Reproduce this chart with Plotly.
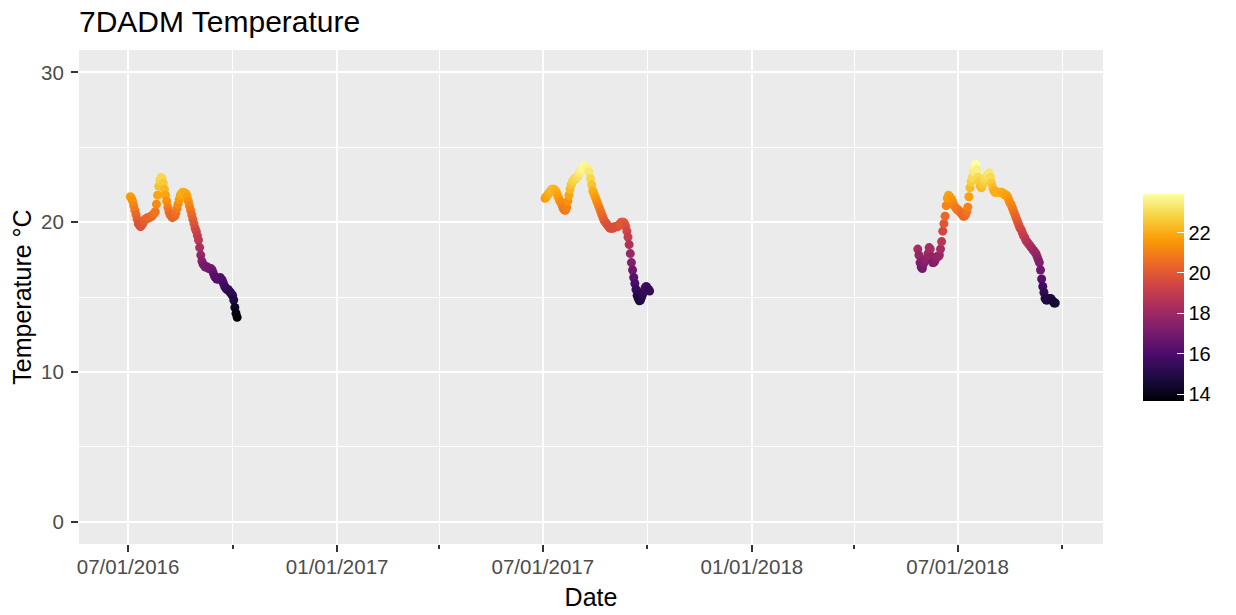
import pandas as pd
import plotly.graph_objects as go

# ---- data (7-day average daily maximum temperature, °C) ----
start_2016 = "2016-07-03"
temps_2016 = [21.7, 21.6, 21.4, 21.1, 20.8, 20.5, 20.2, 19.9, 19.8, 19.7,
              19.8, 19.9, 20.1, 20.2, 20.2, 20.3, 20.3, 20.3, 20.4, 20.4,
              20.5, 20.6, 20.7, 21.2, 21.8, 22.4, 22.8, 23.0, 22.9, 22.6,
              22.2, 21.8, 21.4, 21.0, 20.7, 20.5, 20.4, 20.3, 20.4, 20.4,
              20.6, 20.9, 21.2, 21.5, 21.8, 21.9, 22.0, 22.0, 21.9, 21.9,
              21.7, 21.4, 21.1, 20.8, 20.5, 20.2, 19.9, 19.6, 19.4, 19.1,
              18.8, 18.3, 17.8, 17.4, 17.2, 17.1, 17.0, 17.0, 17.0, 16.9,
              16.9, 16.9, 16.8, 16.6, 16.4, 16.3, 16.2, 16.2, 16.2, 16.3,
              16.2, 16.1, 15.9, 15.7, 15.6, 15.5, 15.5, 15.4, 15.3, 15.2,
              15.1, 14.8, 14.3, 13.9, 13.65]

start_2017 = "2017-07-03"
temps_2017 = [21.6, 21.7, 21.8, 21.9, 22.0, 22.1, 22.2, 22.2, 22.2, 22.1,
              22.0, 21.8, 21.6, 21.4, 21.3, 21.1, 20.9, 20.8, 20.8, 21.0,
              21.4, 21.8, 22.2, 22.5, 22.7, 22.8, 22.9, 22.9, 23.0, 23.1,
              23.3, 23.4, 23.5, 23.6, 23.7, 23.75, 23.7, 23.6, 23.5, 23.3,
              22.9, 22.5, 22.1, 21.9, 21.7, 21.5, 21.3, 21.1, 20.9, 20.7,
              20.5, 20.3, 20.1, 20.0, 19.9, 19.8, 19.7, 19.6, 19.6, 19.6,
              19.6, 19.7, 19.7, 19.7, 19.7, 19.8, 19.9, 20.0, 20.0, 20.0,
              19.9, 19.7, 19.4, 19.0, 18.5, 17.9, 17.3, 16.8, 16.3, 15.9,
              15.5, 15.1, 14.9, 14.75, 14.8, 15.0, 15.2, 15.4, 15.6, 15.7,
              15.6, 15.5, 15.4]

start_2018 = "2018-05-27"
temps_2018 = [18.2, 17.8, 17.3, 17.0, 16.9, 17.2, 17.4, 17.5, 17.6, 17.9,
              18.3, 18.2, 17.7, 17.3, 17.3, 17.4, 17.6, 17.7, 17.7, 17.8,
              18.2, 18.7, 19.4, 19.9, 20.4, 21.1, 21.6, 21.8, 21.7, 21.6,
              21.5, 21.3, 21.1, 21.0, 20.9, 20.8, 20.8, 20.7, 20.6, 20.5,
              20.4, 20.4, 20.5, 20.7, 21.0, 21.7, 22.3, 22.7, 23.0, 23.4,
              23.7, 23.88, 23.5, 23.0, 22.7, 22.4, 22.3, 22.5, 22.7, 22.9,
              23.0, 23.1, 23.2, 23.3, 23.0, 22.6, 22.3, 22.1, 22.0, 22.0,
              22.0, 22.0, 22.0, 22.0, 22.0, 21.9, 21.9, 21.8, 21.8, 21.7,
              21.5, 21.3, 21.2, 21.0, 20.8, 20.6, 20.4, 20.2, 20.0, 19.8,
              19.6, 19.5, 19.3, 19.1, 19.0, 18.8, 18.7, 18.6, 18.5, 18.4,
              18.3, 18.2, 18.1, 18.0, 17.9, 17.7, 17.5, 17.3, 16.8, 16.2,
              15.7, 15.3, 14.9, 14.8, 14.8, 14.9, 14.9, 14.9, 14.8, 14.7,
              14.6, 14.6]

major_dates = ["2016-07-01", "2017-01-01", "2017-07-01", "2018-01-01", "2018-07-01"]
major_labels = ["07/01/2016", "01/01/2017", "07/01/2017", "01/01/2018", "07/01/2018"]
minor_dates = ["2016-10-01", "2017-04-01", "2017-10-01", "2018-04-01", "2018-10-01"]
y_major = [0, 10, 20, 30]
y_minor = [5, 15, 25]
cbar_ticks = [14, 16, 18, 20, 22]

# ---- assemble ----
frames = []
for start, vals in [(start_2016, temps_2016), (start_2017, temps_2017), (start_2018, temps_2018)]:
    frames.append(pd.DataFrame({"date": pd.date_range(start, periods=len(vals), freq="D"),
                                "temp": vals}))
df = pd.concat(frames, ignore_index=True)

FONT = "Liberation Sans, Arial, sans-serif"

fig = go.Figure(go.Scatter(
    x=df["date"], y=df["temp"], mode="markers",
    marker=dict(size=9, color=df["temp"], colorscale="Inferno", showscale=True,
                line=dict(width=0),
                colorbar=dict(thickness=41, len=207, lenmode="pixels",
                              x=1.0392, xanchor="left", xpad=0,
                              y=0.498, yanchor="middle", ypad=0,
                              tickvals=cbar_ticks, ticks="inside", ticklen=7,
                              tickcolor="white", tickwidth=1.2, outlinewidth=0,
                              tickfont=dict(family=FONT, size=20, color="black"),
                              title=dict(text=""))),
    hovertemplate="%{x|%m/%d/%Y}<br>%{y:.1f} °C<extra></extra>",
))

fig.update_layout(
    width=1236, height=615,
    margin=dict(l=79, r=133, t=50, b=71, autoexpand=False),
    paper_bgcolor="white", plot_bgcolor="#EBEBEB",
    font=dict(family=FONT, color="black"),
    showlegend=False,
    title=dict(text="7DADM Temperature", x=0, xref="paper", xanchor="left",
               y=1 - 21 / 615, yref="container", yanchor="middle",
               font=dict(family=FONT, size=30, color="black")),
    xaxis=dict(type="date", range=["2016-05-18 20:00", "2018-11-06"],
               tickvals=major_dates, ticktext=major_labels, automargin=False,
               ticks="outside", ticklen=7, tickwidth=1.5, tickcolor="#333333",
               ticklabelstandoff=-3,
               tickfont=dict(family=FONT, size=20.5, color="#4D4D4D"),
               showgrid=True, gridcolor="white", gridwidth=2,
               minor=dict(tickvals=minor_dates, ticks="outside", ticklen=4, tickwidth=1.5,
                          tickcolor="#333333", showgrid=True, gridcolor="white", gridwidth=1),
               zeroline=False, showline=False,
               title=dict(text="Date", standoff=11,
                          font=dict(family=FONT, size=25, color="black"))),
    yaxis=dict(range=[-1.5, 31.5], tickvals=y_major, automargin=False,
               ticks="outside", ticklen=7, tickwidth=1.5, tickcolor="#333333",
               ticklabelstandoff=3,
               tickfont=dict(family=FONT, size=20.5, color="#4D4D4D"),
               showgrid=True, gridcolor="white", gridwidth=2,
               minor=dict(tickvals=y_minor, ticks="", showgrid=True,
                          gridcolor="white", gridwidth=1),
               zeroline=False, showline=False,
               title=dict(text="Temperature °C", standoff=2,
                          font=dict(family=FONT, size=25, color="black"))),
)

fig.write_html("out.html", config={"displayModeBar": False},
               post_script="document.body.style.margin='0';document.body.style.overflow='hidden';")
